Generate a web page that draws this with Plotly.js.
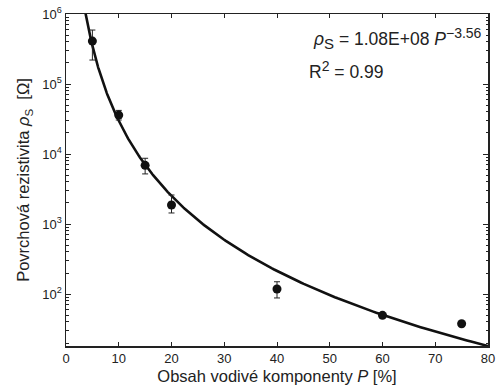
<!DOCTYPE html>
<html>
<head>
<meta charset="utf-8">
<script src="https://cdn.plot.ly/plotly-3.0.1.min.js"></script>
<style>html,body{margin:0;padding:0;background:#fff;}#chart{width:496px;height:391px;}</style>
</head>
<body>
<div id="chart"></div>
<script>
// Measured data
const contentP = [5, 10, 15, 20, 40, 60, 75];
const resistivity = [4.1e5, 3.6e4, 6.9e3, 1.87e3, 118, 49.7, 37.7];
const errUpper = [5.9e5, 4.2e4, 8.7e3, 2.6e3, 150, 49.7, 37.7];
const errLower = [2.2e5, 3.06e4, 5.2e3, 1.44e3, 88, 49.7, 37.7];
// Fit parameters as printed on the chart: rho = A * P^B
const fitA = 1.08e8;
const fitB = -3.56;
const fitRange = [3.7, 80];
const yTickVals = [100, 1000, 10000, 100000, 1000000];
const yTickText = ['10<sup>2</sup>', '10<sup>3</sup>', '10<sup>4</sup>', '10<sup>5</sup>', '10<sup>6</sup>'];
const xTickVals = [0, 10, 20, 30, 40, 50, 60, 70, 80];

const fitX = [], fitY = [];
for (let i = 0; i <= 300; i++) {
  const p = fitRange[0] * Math.pow(fitRange[1] / fitRange[0], i / 300);
  fitX.push(p);
  fitY.push(fitA * Math.pow(p, fitB));
}

const plus = resistivity.map((v, i) => errUpper[i] - v);
const minus = resistivity.map((v, i) => v - errLower[i]);

const traces = [
  {x: fitX, y: fitY, mode: 'lines', line: {color: '#111', width: 2.6}, hoverinfo: 'skip'},
  {x: contentP, y: resistivity, mode: 'markers',
   marker: {color: '#111', size: 9},
   error_y: {type: 'data', symmetric: false, array: plus, arrayminus: minus, color: '#222', thickness: 1, width: 3}}
];

const font = {family: 'Liberation Sans, Arial, sans-serif', color: '#222'};
const layout = {
  width: 496, height: 391,
  margin: {l: 66, r: 8, t: 14, b: 45},
  paper_bgcolor: '#fff', plot_bgcolor: '#fff',
  showlegend: false,
  font: font,
  xaxis: {
    range: [0, 80], tickvals: xTickVals, ticks: 'inside', ticklen: 4, tickcolor: '#222',
    showline: true, linecolor: '#222', linewidth: 1.5, mirror: 'ticks', showgrid: false, zeroline: false,
    tickfont: {family: font.family, size: 13, color: '#222'},
    title: {text: 'Obsah vodivé komponenty <i>P</i> [%]', font: {family: font.family, size: 16.5, color: '#222'}, standoff: 5}
  },
  yaxis: {
    type: 'log', range: [Math.log10(fitA * Math.pow(80, fitB)), 6],
    tickvals: yTickVals, ticktext: yTickText, ticks: 'inside', ticklen: 5, tickcolor: '#222',
    minor: {ticks: 'inside', ticklen: 2.5, tickcolor: '#222', dtick: 'D1', showgrid: false},
    showline: true, linecolor: '#222', linewidth: 1.5, mirror: 'ticks', showgrid: false, zeroline: false,
    tickfont: {family: font.family, size: 13, color: '#222'},
    title: {text: 'Povrchová rezistivita <i>ρ</i><sub>S</sub>  [Ω]', font: {family: font.family, size: 16.5, color: '#222'}, standoff: 8}
  },
  annotations: [
    {xref: 'paper', yref: 'paper', x: 0.99, y: 0.925, xanchor: 'right', yanchor: 'middle', showarrow: false,
     text: '<i>ρ</i><sub><span style="font-size:15px">S</span></sub> = 1.08E+08 <i>P</i><sup><span style="font-size:14px">−3.56</span></sup>', font: {family: font.family, size: 17.5, color: '#222'}},
    {xref: 'paper', yref: 'paper', x: 0.57, y: 0.83, xanchor: 'left', yanchor: 'middle', showarrow: false,
     text: 'R<sup><span style="font-size:14px">2</span></sup> = 0.99', font: {family: font.family, size: 17.5, color: '#222'}}
  ]
};

Plotly.newPlot('chart', traces, layout, {staticPlot: true});
</script>
</body>
</html>
